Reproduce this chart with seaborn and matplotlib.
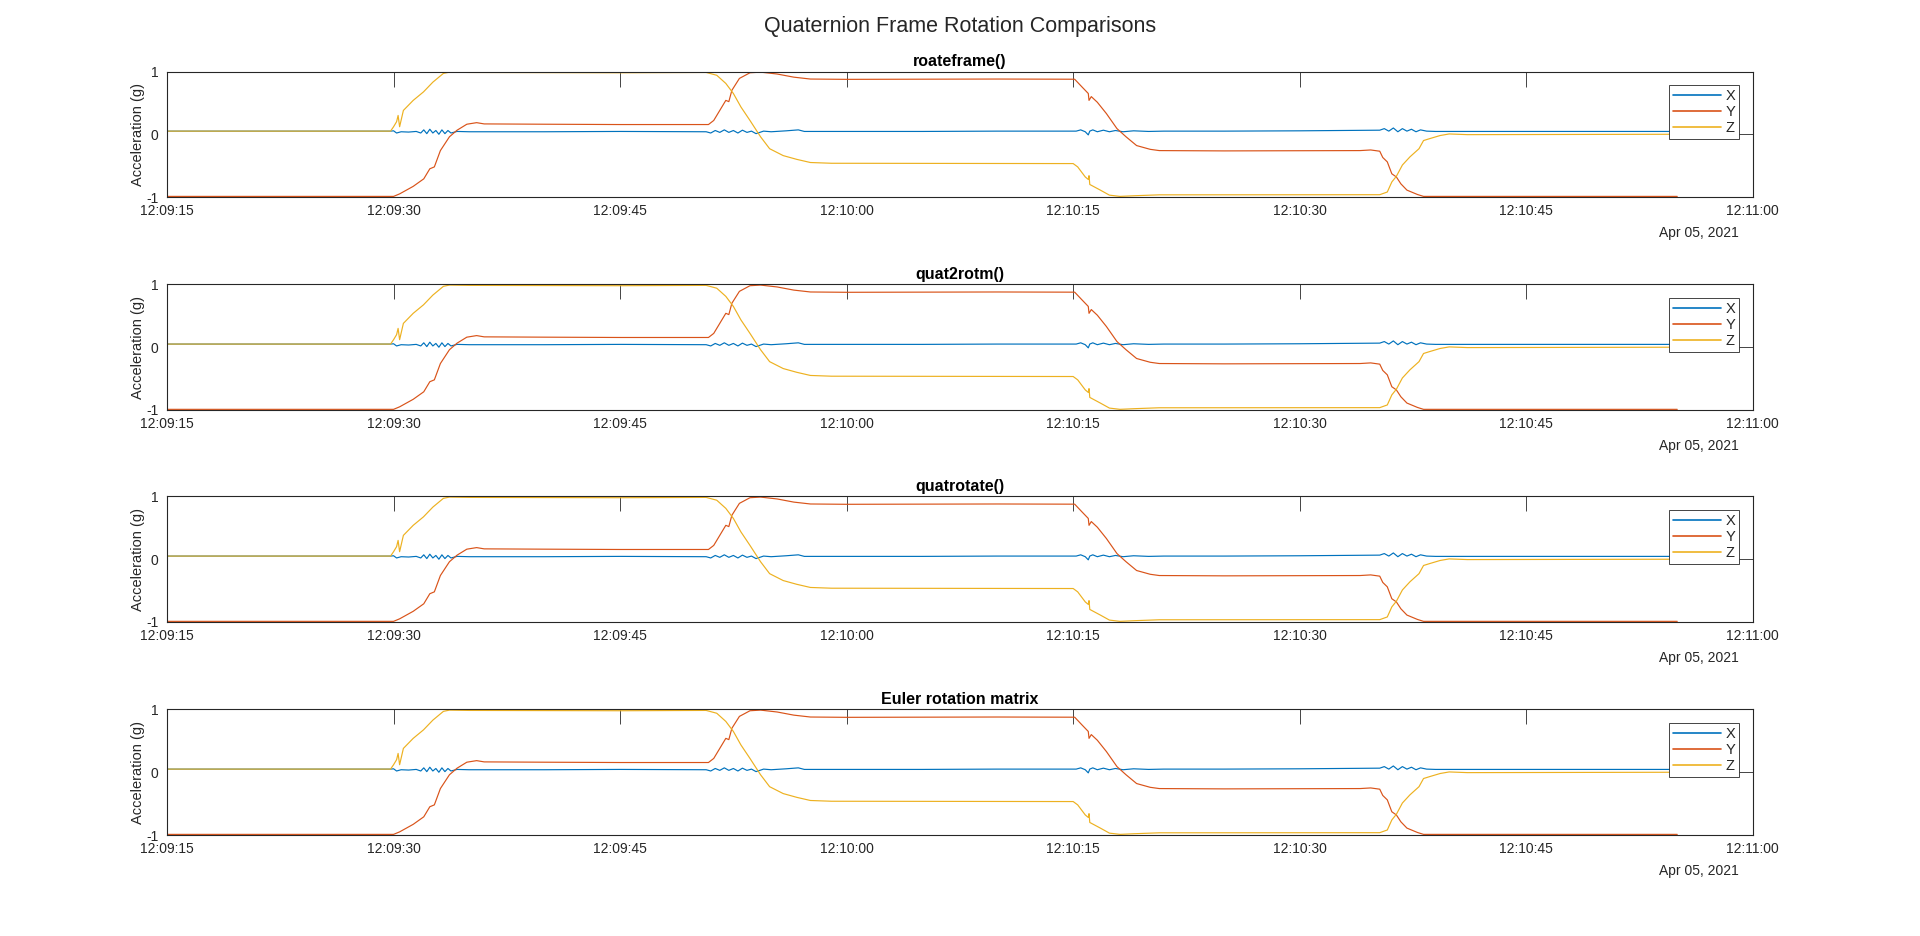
import pandas as pd
import seaborn as sns
from matplotlib import pyplot as plt
import matplotlib.dates as mdates

# readings taken off the reference figure (seconds after 12:09:15, value in g)
X_T = [0, 14.8, 15.0, 15.2, 15.5, 16.0, 16.5, 16.8, 17.0, 17.2, 17.4, 17.6, 17.8, 18.0,
       18.2, 18.4, 18.6, 18.8, 19.2, 20, 25, 30, 35.7, 36.0, 36.3, 36.6, 36.9, 37.2, 37.5,
       37.8, 38.1, 38.4, 38.7, 39.0, 39.5, 40, 41, 41.8, 42.2, 45, 50, 55, 60.2, 60.5, 60.8,
       61.0, 61.1, 61.3, 61.6, 62.0, 62.4, 62.8, 63.3, 64, 65, 66, 70, 75, 80.3, 80.6, 80.9,
       81.2, 81.5, 81.8, 82.1, 82.4, 82.7, 83.0, 83.4, 84, 90, 95, 100]
X_VAL = [0.05, 0.05, 0.055, 0.02, 0.04, 0.035, 0.045, 0.02, 0.07, 0.01, 0.08, 0.02, 0.06, 0.0,
         0.07, 0.01, 0.06, 0.02, 0.045, 0.04, 0.04, 0.045, 0.04, 0.02, 0.06, 0.03, 0.07, 0.03, 0.06,
         0.02, 0.065, 0.03, 0.05, 0.01, 0.05, 0.04, 0.055, 0.07, 0.045, 0.045, 0.045, 0.05, 0.05, 0.07, 0.04,
         -0.01, 0.05, 0.07, 0.04, 0.065, 0.04, 0.06, 0.04, 0.055, 0.045, 0.05, 0.05, 0.055, 0.065, 0.09, 0.05,
         0.1, 0.04, 0.09, 0.05, 0.08, 0.04, 0.07, 0.05, 0.045, 0.045, 0.045, 0.045]

Y_T = [0, 15.0, 15.4, 16.3, 17.0, 17.4, 17.7, 18.1, 18.7, 19.2, 19.85, 20.5, 21, 25, 30, 35.85,
       36.2, 36.6, 37.0, 37.2, 37.4, 37.9, 38.6, 39.3, 40.4, 41.5, 42.6, 45, 55, 60.1, 60.6, 61.0,
       61.05, 61.2, 61.6, 62.2, 62.9, 63.5, 64.2, 65.1, 65.7, 70, 79.0, 79.7, 80.3, 80.5, 80.8,
       81.1, 81.4, 81.7, 82.1, 82.8, 83.2, 100]
Y_VAL = [-0.99, -0.99, -0.95, -0.83, -0.71, -0.55, -0.52, -0.26, -0.04, 0.064, 0.16, 0.185, 0.165, 0.16, 0.155, 0.155,
         0.22, 0.38, 0.54, 0.52, 0.70, 0.89, 0.98, 0.99, 0.96, 0.91, 0.88, 0.875, 0.88, 0.877, 0.75, 0.65,
         0.54, 0.60, 0.51, 0.33, 0.09, -0.04, -0.18, -0.24, -0.26, -0.265, -0.26, -0.25, -0.27, -0.37, -0.44,
         -0.63, -0.68, -0.79, -0.89, -0.96, -0.99, -0.99]

Z_T = [0, 14.8, 15.0, 15.2, 15.3, 15.4, 15.65, 16.3, 16.98, 17.6, 18.3, 18.7, 20, 30, 35.7, 36.4,
       37.0, 37.5, 38.0, 38.6, 39.3, 39.9, 40.8, 41.7, 42.6, 44, 60.0, 60.3, 60.8, 61.0, 61.05,
       61.1, 61.8, 62.4, 63.1, 64.0, 65.7, 80.3, 80.8, 81.1, 81.4, 81.8, 82.3, 82.9, 83.2, 83.6,
       84.3, 84.9, 86.1, 100]
Z_VAL = [0.05, 0.05, 0.12, 0.20, 0.30, 0.12, 0.38, 0.54, 0.675, 0.83, 0.97, 0.99, 0.985, 0.98, 0.985, 0.94,
         0.81, 0.65, 0.435, 0.22, -0.04, -0.23, -0.34, -0.40, -0.45, -0.462, -0.467, -0.52, -0.68, -0.72, -0.66,
         -0.80, -0.89, -0.97, -0.99, -0.98, -0.965, -0.963, -0.92, -0.76, -0.67, -0.49, -0.36, -0.23, -0.10, -0.07,
         -0.02, 0.005, -0.006, 0.0]

TITLES = ['roateframe()', 'quat2rotm()', 'quatrotate()', 'Euler rotation matrix']
AXIS_NAMES = ['X', 'Y', 'Z']
COLORS = ['#0072BD', '#D95319', '#EDB120']
START = pd.Timestamp('2021-04-05 12:09:15')

sns.set_style('white')
plt.rcParams['font.family'] = ['Liberation Sans', 'DejaVu Sans']
plt.rcParams['text.color'] = '#262626'

frames = []
for name, ts, vs in zip(AXIS_NAMES, [X_T, Y_T, Z_T], [X_VAL, Y_VAL, Z_VAL]):
    frames.append(pd.DataFrame({'time': START + pd.to_timedelta(ts, unit='s'),
                                'accel': vs, 'axis': name}))
df = pd.concat(frames, ignore_index=True)

fig = plt.figure(figsize=(19.2, 9.36), dpi=100)
fig.suptitle('Quaternion Frame Rotation Comparisons', fontsize=15.5, y=0.983, color='#262626')

bottoms = [0.7895, 0.5620, 0.3355, 0.1079]
for title, bottom in zip(TITLES, bottoms):
    ax = fig.add_axes([0.087, bottom, 0.8259, 0.1341])
    sns.lineplot(data=df, x='time', y='accel', hue='axis', hue_order=AXIS_NAMES,
                 palette=COLORS, estimator=None, sort=False, lw=0.85, legend=False, ax=ax)

    ax.set_xlim(START, START + pd.Timedelta(seconds=105))
    ax.set_ylim(-1, 1)
    ax.set_yticks([-1, 0, 1])
    ax.set_yticklabels(['-1', '0', '1'])
    ax.xaxis.set_major_locator(mdates.SecondLocator(bysecond=[0, 15, 30, 45]))
    ax.xaxis.set_major_formatter(mdates.DateFormatter('%H:%M:%S'))
    ax.tick_params(direction='in', length=11, width=0.6, top=True, right=True,
                   color='#262626', labelcolor='#262626', labelsize=10, pad=5)
    ax.tick_params(axis='y', pad=6)
    for sp in ax.spines.values():
        sp.set_visible(True)
        sp.set_color('#262626')
        sp.set_linewidth(0.8)

    ax.set_xlabel('')
    ax.set_ylabel('Acceleration (g)', fontsize=10.5, labelpad=1, color='#262626')
    ax.set_title(title, fontsize=11.5, fontweight='bold', pad=4, color='black')
    ax.annotate('Apr 05, 2021', xy=(1, 0), xycoords='axes fraction', xytext=(-10, -26),
                textcoords='offset points', ha='right', va='center', fontsize=10, color='#262626')

    leg = ax.legend(ax.get_lines()[:3], AXIS_NAMES, loc='upper right', fontsize=10.5,
                    frameon=True, fancybox=False, framealpha=1, edgecolor='#262626',
                    handlelength=3.3, handletextpad=0.3, borderpad=0.25,
                    labelspacing=0.15, borderaxespad=0.95)
    leg.get_frame().set_linewidth(0.6)
    for h in leg.get_lines():
        h.set_linewidth(1.2)

fig.savefig('out.png', dpi=100)
